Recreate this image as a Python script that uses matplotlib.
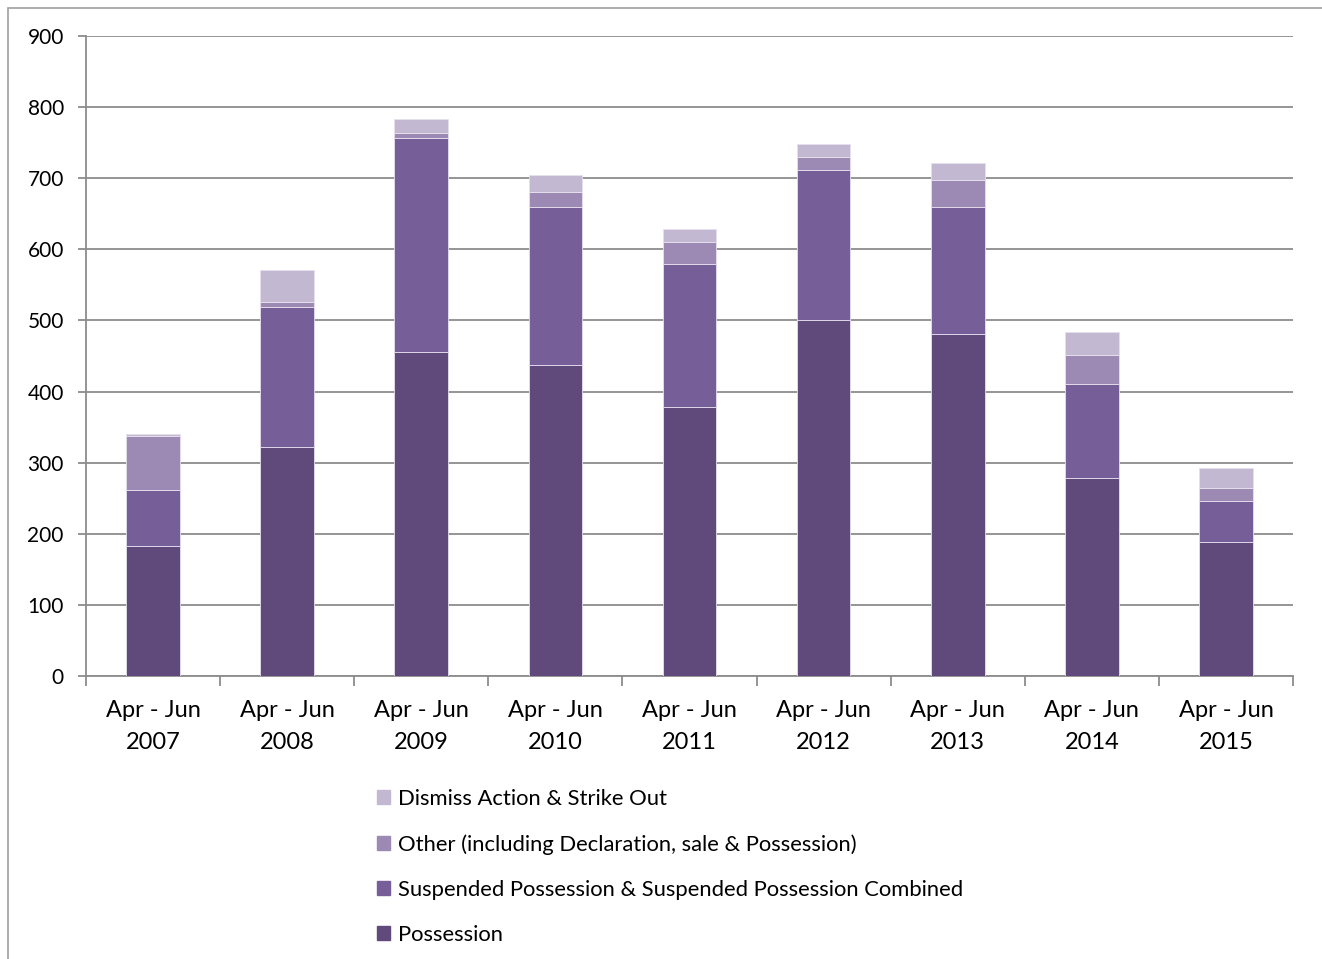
import matplotlib
matplotlib.use("Agg")
import matplotlib.pyplot as plt
from matplotlib.patches import Rectangle, Patch

categories = ["Apr - Jun\n2007", "Apr - Jun\n2008", "Apr - Jun\n2009", "Apr - Jun\n2010",
              "Apr - Jun\n2011", "Apr - Jun\n2012", "Apr - Jun\n2013", "Apr - Jun\n2014",
              "Apr - Jun\n2015"]
possession = [183, 322, 456, 438, 378, 501, 481, 279, 188]
suspended = [79, 197, 301, 222, 202, 211, 178, 131, 58]
other = [76, 7, 6, 21, 30, 18, 39, 42, 18]
dismiss = [2, 45, 20, 23, 18, 18, 24, 32, 29]

series_names = ["Possession",
                "Suspended Possession & Suspended Possession Combined",
                "Other (including Declaration, sale & Possession)",
                "Dismiss Action & Strike Out"]
colors = ["#604A7B", "#765E98", "#9C89B4", "#C2B8D2"]

plt.rcParams['font.family'] = ['Lato', 'DejaVu Sans']

W, H = 1322, 959
fig = plt.figure(figsize=(W / 100, H / 100), dpi=100)
ax = fig.add_axes([86 / W, 1 - 676 / H, (1293 - 86) / W, (676 - 36) / H])

x = list(range(len(categories)))
bottom = [0] * len(categories)
handles = []
for vals, name, col in zip([possession, suspended, other, dismiss], series_names, colors):
    ax.bar(x, vals, width=0.4, bottom=bottom, color=col, edgecolor="#E6E0EE",
           linewidth=0.6, zorder=3, label=name)
    bottom = [b + v for b, v in zip(bottom, vals)]
    handles.append(Patch(facecolor=col, edgecolor=col))

ax.set_xlim(-0.5, len(categories) - 0.5)
ax.set_ylim(0, 900)
ax.set_yticks(range(0, 901, 100))
ax.yaxis.grid(True, color="#8C8C8C", linewidth=1.3, zorder=0)
ax.set_axisbelow(True)

ax.set_xticks(x)
ax.set_xticklabels(categories, fontsize=17, linespacing=1.68)
ax.set_xticks([i - 0.5 for i in range(len(categories) + 1)], minor=True)
ax.tick_params(axis='x', which='major', length=0, pad=17)
ax.tick_params(axis='x', which='minor', length=7, width=1.3, color="#8C8C8C", direction='out')
ax.tick_params(axis='y', length=6, width=1.3, color="#8C8C8C", labelsize=15, pad=10)

for side in ["top", "right"]:
    ax.spines[side].set_visible(False)
for side in ["left", "bottom"]:
    ax.spines[side].set_color("#8C8C8C")
    ax.spines[side].set_linewidth(1.3)

leg = fig.legend(handles[::-1], series_names[::-1], loc="upper left",
                 bbox_to_anchor=(377 / W, 1 - 789 / H), frameon=False,
                 fontsize=15.8, handlelength=0.6, handleheight=0.6, handletextpad=0.35,
                 labelspacing=1.14, borderaxespad=0, borderpad=0)

fig.patches.append(Rectangle((8 / W, -0.1), 1.2, 1.1 - 8 / H, transform=fig.transFigure,
                             fill=False, edgecolor="#A0A0A0", linewidth=1.2))

fig.savefig("out.png", dpi=100)
